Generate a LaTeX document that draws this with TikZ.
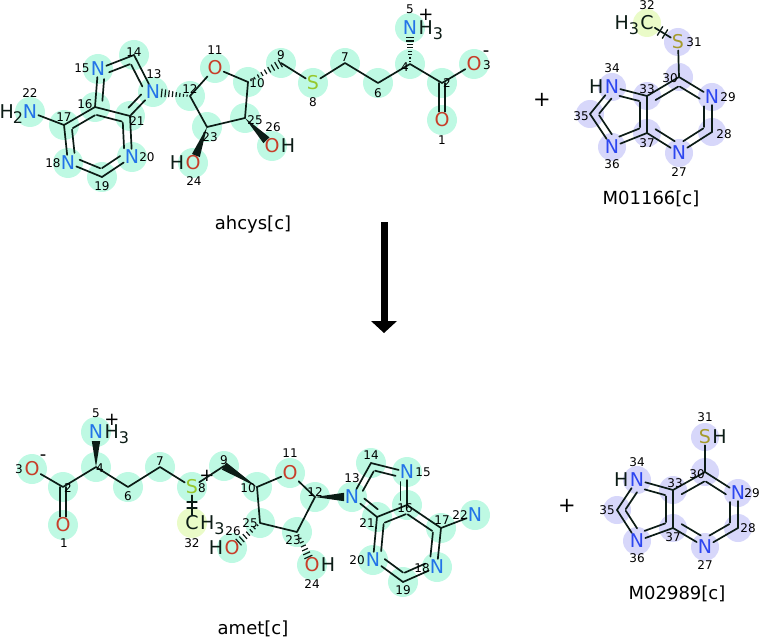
\documentclass[tikz,border=0pt]{standalone}
\usepackage{fontspec}
\setmainfont{DejaVu Sans}
\usetikzlibrary{calc}
\definecolor{tealc}{RGB}{190,249,227}
\definecolor{purc}{RGB}{215,215,250}
\definecolor{yelc}{RGB}{234,251,200}
\definecolor{bondc}{RGB}{12,28,22}
\definecolor{Nca}{RGB}{35,115,232}
\definecolor{Ncb}{RGB}{45,70,240}
\definecolor{Oc}{RGB}{200,62,42}
\definecolor{Sca}{RGB}{150,200,45}
\definecolor{Scb}{RGB}{165,155,45}
\tikzset{
 bond/.style={draw=bondc,line width=1.7pt},
 atm/.style={inner sep=1pt,font=\fontsize{19}{19}\selectfont},
 hx/.style={inner sep=0pt,font=\fontsize{19}{19}\selectfont,text=bondc},
 num/.style={inner sep=0pt,font=\fontsize{12}{12}\selectfont,text=black},
 mname/.style={inner sep=0pt,font=\fontsize{18}{18}\selectfont,text=black},
 chg/.style={inner sep=0pt,font=\fontsize{18}{18}\selectfont,text=black},
}
\newcommand\msub[1]{\raisebox{-4.5pt}{\fontsize{16}{16}\selectfont #1}}
% inner aromatic line: A, B, centre, factor, shorten at A, shorten at B
\newcommand\inl[6]{\draw[bond,shorten <=#5,shorten >=#6] ($(#1)!#4!(#3)$) -- ($(#2)!#4!(#3)$);}
% solid wedge: narrow at #1, wide at #2
\newcommand\swedge[2]{\fill[bondc] (#1) -- ($(#2)!4.2pt!90:(#1)$) -- ($(#2)!4.2pt!-90:(#1)$) -- cycle;}
% hashed wedge: narrow at #1, wide at #2, #3 strokes
\newcommand\hwedge[3]{\foreach \hi in {1,...,#3}{%
  \pgfmathsetmacro\wt{(\hi-0.2)/#3}%
  \pgfmathsetmacro\whh{0.6+3.8*\wt}%
  \path ($(#1)!\wt!(#2)$) coordinate (hwP);
  \draw[draw=bondc,line width=1.2pt,line cap=butt] ($(hwP)!\whh pt!90:(#1)$) -- ($(hwP)!\whh pt!-90:(#1)$);}}
% two ticks across a bond
\newcommand\ticks[2]{%
  \path ($(#1)!0.42!(#2)$) coordinate (tk1) ($(#1)!0.58!(#2)$) coordinate (tk2);
  \draw[draw=bondc,line width=1.3pt] ($(tk1)!5pt!90:(#2)$) -- ($(tk1)!5pt!-90:(#2)$);
  \draw[draw=bondc,line width=1.3pt] ($(tk2)!5pt!90:(#2)$) -- ($(tk2)!5pt!-90:(#2)$);}
\begin{document}
\begin{tikzpicture}[x=1pt,y=-1pt,line cap=round,line join=round]
\useasboundingbox (0,0) rectangle (760,639);
% ================= ahcys coordinates
\coordinate (a1) at (442,120); \coordinate (a2) at (442,83);
\coordinate (a3) at (474,64);  \coordinate (a4) at (410,64);
\coordinate (a5) at (410,28);  \coordinate (a6) at (378,83);
\coordinate (a7) at (345,63);  \coordinate (a8) at (313,83);
\coordinate (a9) at (281,63);  \coordinate (a10) at (248,82);
\coordinate (a11) at (215,68); \coordinate (a12) at (190,96);
\coordinate (a13) at (153,92); \coordinate (a14) at (134,55);
\coordinate (a15) at (98,69);  \coordinate (a16) at (95,107);
\coordinate (a17) at (64,125); \coordinate (a18) at (68,163);
\coordinate (a19) at (102,177);\coordinate (a20) at (132,157);
\coordinate (a21) at (130,116);\coordinate (a22) at (30,112);
\coordinate (a23) at (207,127);\coordinate (a24) at (193,163);
\coordinate (a25) at (245,118);\coordinate (a26) at (272,146);
\coordinate (ac6) at (98.5,140.8); \coordinate (ac5) at (122,87.8);
% ================= M01166 coordinates
\coordinate (b27) at (679,153); \coordinate (b28) at (712,132);
\coordinate (b29) at (712,97);  \coordinate (b30) at (679,77);
\coordinate (b31) at (678,42);  \coordinate (b32) at (647,23);
\coordinate (b33) at (647,96);  \coordinate (b34) at (612,87);
\coordinate (b35) at (590,114); \coordinate (b36) at (612,147);
\coordinate (b37) at (647,133);
\coordinate (bc6) at (679,115); \coordinate (bc5) at (621.6,115.4);
% ================= amet coordinates
\coordinate (c1) at (63,525);  \coordinate (c2) at (63,487);
\coordinate (c3) at (32,469);  \coordinate (c4) at (96,467);
\coordinate (c5) at (96,432);  \coordinate (c6) at (128,487);
\coordinate (c7) at (160,467); \coordinate (c8) at (192,487);
\coordinate (c9) at (224,466); \coordinate (c10) at (257,487);
\coordinate (c11) at (290,473);\coordinate (c12) at (315,497);
\coordinate (c13) at (352,497);\coordinate (c14) at (371,463);
\coordinate (c15) at (407,472);\coordinate (c16) at (407,505);
\coordinate (c17) at (441,528);\coordinate (c18) at (437,567);
\coordinate (c19) at (403,582);\coordinate (c20) at (373,560);
\coordinate (c21) at (377,517);\coordinate (c22) at (475,515);
\coordinate (c23) at (297,532);\coordinate (c24) at (312,565);
\coordinate (c25) at (260,523);\coordinate (c26) at (232,548);
\coordinate (c32) at (192,523);
\coordinate (cc6) at (406.3,543.2); \coordinate (cc5) at (382.8,490.8);
% ================= M02989 coordinates
\coordinate (d27) at (705,547); \coordinate (d28) at (738,528);
\coordinate (d29) at (738,493); \coordinate (d30) at (705,472);
\coordinate (d31) at (705,437); \coordinate (d33) at (673,490);
\coordinate (d34) at (637,480); \coordinate (d35) at (617,510);
\coordinate (d36) at (637,541); \coordinate (d37) at (673,528);
\coordinate (dc6) at (705.3,509.7); \coordinate (dc5) at (647.4,509.8);
% ================= highlight circles
\foreach \k in {1,...,26} \fill[tealc] (a\k) circle (15pt);
\foreach \k in {1,...,26} \fill[tealc] (c\k) circle (15pt);
\fill[yelc] (c32) circle (15pt);
\foreach \k in {27,...,31,33,34,35,36,37} \fill[purc] (b\k) circle (14pt);
\fill[yelc] (b32) circle (14pt);
\foreach \k in {27,...,31,33,34,35,36,37} \fill[purc] (d\k) circle (14pt);
% ================= ahcys atoms
\node[atm,text=Oc] (A1) at (a1) {O};
\node[atm,text=Oc] (A3) at (a3) {O};
\node[atm,text=Nca] (A5) at (a5) {N};
\node[atm,text=Sca] (A8) at (a8) {S};
\node[atm,text=Oc] (A11) at (a11) {O};
\node[atm,text=Nca] (A13) at (a13) {N};
\node[atm,text=Nca] (A15) at (a15) {N};
\node[atm,text=Nca] (A18) at (a18) {N};
\node[atm,text=Nca] (A20) at (a20) {N};
\node[atm,text=Nca] (A22) at (a22) {N};
\node[atm,text=Oc] (A24) at (a24) {O};
\node[atm,text=Oc] (A26) at (a26) {O};
\node[hx,anchor=base west] (A5h) at (A5.base east) {H\msub{3}};
\node[hx,anchor=base east] (A22h) at ([xshift=1.5pt]A22.base west) {H\kern-1pt\msub{2}};
\node[hx,anchor=base east] (A24h) at (A24.base west) {H};
\node[hx,anchor=base west] (A26h) at (A26.base east) {H};
\node[chg] (A5c) at (426,15) {+};
\node[chg] (A3c) at (486,54) {-};
% bonds
\draw[bond] (A22) -- (a17);
\draw[bond] (a17) -- (a16);
\draw[bond] (a16) -- (A15);
\draw[bond] (A15) -- (a14);
\draw[bond] (a14) -- (A13);
\draw[bond] (A13) -- (a21);
\draw[bond] (a21) -- (a16);
\draw[bond] (a21) -- (A20);
\draw[bond] (A20) -- (a19);
\draw[bond] (a19) -- (A18);
\draw[bond] (A18) -- (a17);
\draw[bond] (a12) -- (A11);
\draw[bond] (A11) -- (a10);
\draw[bond] (a10) -- (a25) -- (a23) -- (a12);
\draw[bond] (a9) -- (A8);
\draw[bond] (A8) -- (a7) -- (a6) -- (a4) -- (a2);
\draw[bond] (a2) -- (A3);
\draw[bond] ([xshift=-2.8pt]a2) -- ([xshift=-2.8pt]A1.north);
\draw[bond] ([xshift=2.8pt]a2) -- ([xshift=2.8pt]A1.north);
\inl{a17}{a16}{ac6}{0.23}{1pt}{1pt}
\inl{a16}{a21}{ac6}{0.23}{1pt}{1pt}
\inl{a21}{a20}{ac6}{0.23}{1pt}{5pt}
\inl{a20}{a19}{ac6}{0.23}{5pt}{1pt}
\inl{a19}{a18}{ac6}{0.23}{1pt}{5pt}
\inl{a18}{a17}{ac6}{0.23}{5pt}{1pt}
\inl{a16}{a15}{ac5}{0.27}{1pt}{5pt}
\inl{a15}{a14}{ac5}{0.27}{5pt}{1pt}
\inl{a14}{a13}{ac5}{0.27}{1pt}{5pt}
\inl{a13}{a21}{ac5}{0.27}{5pt}{1pt}
\path ($(a13)!8pt!(a12)$) coordinate (wa1);
\hwedge{a12}{wa1}{8}
\hwedge{a10}{a9}{9}
\path ($(a5)!9pt!(a4)$) coordinate (wa2);
\hwedge{a4}{wa2}{8}
\path ($(a24)!8pt!(a23)$) coordinate (wa3);
\swedge{a23}{wa3}
\path ($(a26)!8pt!(a25)$) coordinate (wa4);
\swedge{a25}{wa4}
% numbers
\node[num] at (442,140) {1};  \node[num] at (447,83) {2};
\node[num] at (487,65) {3};   \node[num] at (405,67) {4};
\node[num] at (410,9) {5};    \node[num] at (378,93) {6};
\node[num] at (345,57) {7};   \node[num] at (313,102) {8};
\node[num] at (281,55) {9};   \node[num] at (257,83) {10};
\node[num] at (215,50) {11};  \node[num] at (190,89) {12};
\node[num] at (154,74) {13};  \node[num] at (134,52) {14};
\node[num] at (82,68) {15};   \node[num] at (85,104) {16};
\node[num] at (64,117) {17};  \node[num] at (53,163) {18};
\node[num] at (102,186) {19}; \node[num] at (147,157) {20};
\node[num] at (137,121) {21}; \node[num] at (30,93) {22};
\node[num] at (210,137) {23}; \node[num] at (194,181) {24};
\node[num] at (255,120) {25}; \node[num] at (273,127) {26};
\node[mname] (nA) at (253,225) {ahcys[c]};
% ================= M01166
\node[atm,text=Ncb] (B27) at (b27) {N};
\node[atm,text=Ncb] (B29) at (b29) {N};
\node[atm,text=Scb] (B31) at (b31) {S};
\node[atm,text=bondc] (B32) at (b32) {C};
\node[atm,text=Ncb] (B34) at (b34) {N};
\node[atm,text=Ncb] (B36) at (b36) {N};
\node[hx,anchor=base east] (B32h) at (B32.base west) {H\msub{3}};
\node[hx,anchor=base east] (B34h) at (B34.base west) {H};
\draw[bond] (B32) -- (B31);
\ticks{b32}{b31}
\draw[bond] (B31) -- (b30);
\draw[bond] (b30) -- (B29);
\draw[bond] (B29) -- (b28);
\draw[bond] (b28) -- (B27);
\draw[bond] (B27) -- (b37);
\draw[bond] (b37) -- (b33) -- (b30);
\draw[bond] (b33) -- (B34);
\draw[bond] (B34) -- (b35);
\draw[bond] (b35) -- (B36);
\draw[bond] (B36) -- (b37);
\inl{b30}{b29}{bc6}{0.24}{1pt}{5pt}
\inl{b29}{b28}{bc6}{0.24}{5pt}{1pt}
\inl{b28}{b27}{bc6}{0.24}{1pt}{5pt}
\inl{b27}{b37}{bc6}{0.24}{5pt}{1pt}
\inl{b33}{b30}{bc6}{0.24}{1pt}{1pt}
\inl{b33}{b34}{bc5}{0.27}{1pt}{5pt}
\inl{b34}{b35}{bc5}{0.27}{5pt}{1pt}
\inl{b35}{b36}{bc5}{0.27}{1pt}{5pt}
\inl{b36}{b37}{bc5}{0.27}{5pt}{1pt}
\inl{b37}{b33}{bc5}{0.27}{1pt}{1pt}
\node[num] at (679,172) {27}; \node[num] at (724,134) {28};
\node[num] at (728,97) {29};  \node[num] at (670,78) {30};
\node[num] at (694,42) {31};  \node[num] at (647,5) {32};
\node[num] at (647,89) {33};  \node[num] at (612,68) {34};
\node[num] at (581,116) {35}; \node[num] at (612,164) {36};
\node[num] at (647,143) {37};
\node[mname] (nB) at (651,199) {M01166[c]};
\node[font=\fontsize{21}{21}\selectfont,inner sep=0pt] (plus1) at (542,100) {+};
% ================= reaction arrow
\coordinate (arS) at (384,222);
\coordinate (arE) at (384,321);
\draw[line width=7pt,line cap=butt,black] (arS) -- (arE);
\fill[black] ($(arE)+(-13,0)$) -- ($(arE)+(13,0)$) -- ($(arE)+(0,12)$) -- cycle;
% ================= amet
\node[atm,text=Oc] (C1) at (c1) {O};
\node[atm,text=Oc] (C3) at (c3) {O};
\node[atm,text=Nca] (C5) at (c5) {N};
\node[atm,text=Sca] (C8) at (c8) {S};
\node[atm,text=Oc] (C11) at (c11) {O};
\node[atm,text=Nca] (C13) at (c13) {N};
\node[atm,text=Nca] (C15) at (c15) {N};
\node[atm,text=Nca] (C18) at (c18) {N};
\node[atm,text=Nca] (C20) at (c20) {N};
\node[atm,text=Nca] (C22) at (c22) {N};
\node[atm,text=Oc] (C24) at (c24) {O};
\node[atm,text=Oc] (C26) at (c26) {O};
\node[atm,text=bondc] (C32) at (c32) {C};
\node[hx,anchor=base west] (C5h) at (C5.base east) {H\msub{3}};
\node[hx,anchor=base west] (C32h) at (C32.base east) {H\msub{3}};
\node[hx,anchor=base east] (C26h) at (C26.base west) {H};
\node[hx,anchor=base west] (C24h) at (C24.base east) {H};
\node[chg] (C5c) at (112,420) {+};
\node[chg] (C8c) at (207,476) {+};
\node[chg] (C3c) at (43,458) {-};
\draw[bond] (C3) -- (c2) -- (c4) -- (c6) -- (c7) -- (C8);
\draw[bond] ([xshift=-3pt]c2) -- ([xshift=-3pt]C1.north);
\draw[bond] ([xshift=3pt]c2) -- ([xshift=3pt]C1.north);
\draw[bond] (C8) -- (c9);
\draw[bond] (C8) -- (C32);
\ticks{c8}{c32}
\draw[bond] (c10) -- (C11);
\draw[bond] (C11) -- (c12);
\draw[bond] (c12) -- (c23) -- (c25) -- (c10);
\draw[bond] (C13) -- (c14);
\draw[bond] (c14) -- (C15);
\draw[bond] (C15) -- (c16);
\draw[bond] (c16) -- (c21);
\draw[bond] (c21) -- (C13);
\draw[bond] (c16) -- (c17);
\draw[bond] (c17) -- (C18);
\draw[bond] (C18) -- (c19);
\draw[bond] (c19) -- (C20);
\draw[bond] (C20) -- (c21);
\draw[bond] (c17) -- (C22);
\inl{c16}{c17}{cc6}{0.23}{1pt}{1pt}
\inl{c17}{c18}{cc6}{0.23}{1pt}{5pt}
\inl{c18}{c19}{cc6}{0.23}{5pt}{1pt}
\inl{c19}{c20}{cc6}{0.23}{1pt}{5pt}
\inl{c20}{c21}{cc6}{0.23}{5pt}{1pt}
\inl{c21}{c16}{cc6}{0.23}{1pt}{1pt}
\inl{c13}{c14}{cc5}{0.27}{5pt}{1pt}
\inl{c14}{c15}{cc5}{0.27}{1pt}{5pt}
\inl{c15}{c16}{cc5}{0.27}{5pt}{1pt}
\inl{c21}{c13}{cc5}{0.27}{1pt}{5pt}
\path ($(c5)!9pt!(c4)$) coordinate (wc1);
\swedge{c4}{wc1}
\swedge{c10}{c9}
\path ($(c13)!8pt!(c12)$) coordinate (wc2);
\swedge{c12}{wc2}
\path ($(c26)!8pt!(c25)$) coordinate (wc3);
\hwedge{c25}{wc3}{7}
\path ($(c24)!8pt!(c23)$) coordinate (wc4);
\hwedge{c23}{wc4}{7}
\node[num] at (64,543) {1};   \node[num] at (68,488) {2};
\node[num] at (19,469) {3};   \node[num] at (100,468) {4};
\node[num] at (96,413) {5};   \node[num] at (128,496) {6};
\node[num] at (160,461) {7};  \node[num] at (202,488) {8};
\node[num] at (224,460) {9};  \node[num] at (248,488) {10};
\node[num] at (290,453) {11}; \node[num] at (315,492) {12};
\node[num] at (352,478) {13}; \node[num] at (371,455) {14};
\node[num] at (423,472) {15}; \node[num] at (405,508) {16};
\node[num] at (442,520) {17}; \node[num] at (422,568) {18};
\node[num] at (403,590) {19}; \node[num] at (357,560) {20};
\node[num] at (367,523) {21}; \node[num] at (460,515) {22};
\node[num] at (293,540) {23}; \node[num] at (312,584) {24};
\node[num] at (250,523) {25}; \node[num] at (233,531) {26};
\node[num] at (192,543) {32};
\node[mname] (nC) at (253,629) {amet[c]};
% ================= M02989
\node[atm,text=Ncb] (D27) at (d27) {N};
\node[atm,text=Ncb] (D29) at (d29) {N};
\node[atm,text=Scb] (D31) at (d31) {S};
\node[atm,text=Ncb] (D34) at (d34) {N};
\node[atm,text=Ncb] (D36) at (d36) {N};
\node[hx,anchor=base west] (D31h) at (D31.base east) {H};
\node[hx,anchor=base east] (D34h) at (D34.base west) {H};
\draw[bond] (D31) -- (d30);
\draw[bond] (d30) -- (D29);
\draw[bond] (D29) -- (d28);
\draw[bond] (d28) -- (D27);
\draw[bond] (D27) -- (d37);
\draw[bond] (d37) -- (d33) -- (d30);
\draw[bond] (d33) -- (D34);
\draw[bond] (D34) -- (d35);
\draw[bond] (d35) -- (D36);
\draw[bond] (D36) -- (d37);
\inl{d30}{d29}{dc6}{0.24}{1pt}{5pt}
\inl{d29}{d28}{dc6}{0.24}{5pt}{1pt}
\inl{d28}{d27}{dc6}{0.24}{1pt}{5pt}
\inl{d27}{d37}{dc6}{0.24}{5pt}{1pt}
\inl{d33}{d30}{dc6}{0.24}{1pt}{1pt}
\inl{d33}{d34}{dc5}{0.27}{1pt}{5pt}
\inl{d34}{d35}{dc5}{0.27}{5pt}{1pt}
\inl{d35}{d36}{dc5}{0.27}{1pt}{5pt}
\inl{d36}{d37}{dc5}{0.27}{5pt}{1pt}
\inl{d37}{d33}{dc5}{0.27}{1pt}{1pt}
\node[num] at (705,565) {27}; \node[num] at (748,528) {28};
\node[num] at (752,493) {29}; \node[num] at (697,474) {30};
\node[num] at (705,417) {31}; \node[num] at (675,483) {33};
\node[num] at (637,462) {34}; \node[num] at (607,510) {35};
\node[num] at (637,558) {36}; \node[num] at (673,537) {37};
\node[mname] (nD) at (677,594) {M02989[c]};
\node[font=\fontsize{21}{21}\selectfont,inner sep=0pt] (plus2) at (567,506) {+};
\end{tikzpicture}
\end{document}
